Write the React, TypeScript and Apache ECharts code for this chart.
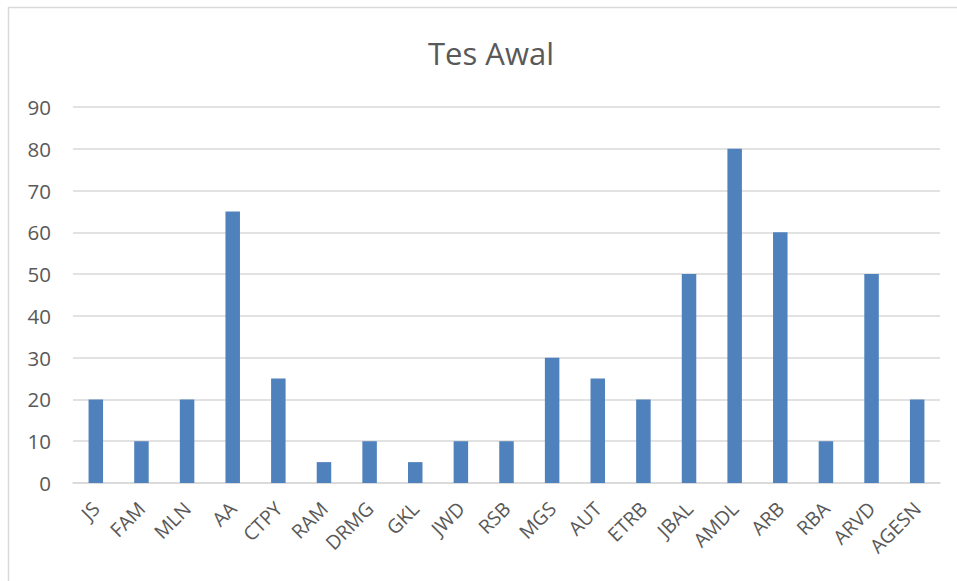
import React, { useEffect, useRef } from "react";
import * as echarts from "echarts";

const categories = ["JS", "FAM", "MLN", "AA", "CTPY", "RAM", "DRMG", "GKL", "JWD", "RSB", "MGS", "AUT", "ETRB", "JBAL", "AMDL", "ARB", "RBA", "ARVD", "AGESN"];
const values = [20, 10, 20, 65, 25, 5, 10, 5, 10, 10, 30, 25, 20, 50, 80, 60, 10, 50, 20];
const yTicks = { min: 0, max: 90, interval: 10 };
const title = "Tes Awal";

export default function App() {
  const ref = useRef<HTMLDivElement>(null);
  useEffect(() => {
    const chart = echarts.init(ref.current!, null, { renderer: "svg" });
    const font = "'Open Sans', 'Liberation Sans', sans-serif";
    chart.setOption({
      animation: false,
      backgroundColor: "#ffffff",
      title: {
        text: title,
        left: 423,
        top: 32,
        textStyle: { fontFamily: font, fontSize: 31, fontWeight: "normal", color: "#595959" },
      },
      graphic: [
        {
          type: "rect",
          shape: { x: 8.5, y: 7.5, width: 1000, height: 1000 },
          style: { fill: "none", stroke: "#d9d9d9", lineWidth: 1.5 },
          silent: true,
        },
      ],
      grid: { left: 73, right: 17, top: 107, bottom: 98, containLabel: false },
      xAxis: {
        type: "category",
        data: categories,
        axisTick: { show: false },
        axisLine: { show: true, lineStyle: { color: "#d9d9d9", width: 1.5 } },
        axisLabel: {
          rotate: 45,
          interval: 0,
          margin: 22,
          fontFamily: font,
          fontSize: 19.5,
          color: "#595959",
        },
      },
      yAxis: {
        type: "value",
        min: yTicks.min,
        max: yTicks.max,
        interval: yTicks.interval,
        axisLine: { show: false },
        axisTick: { show: false },
        axisLabel: { fontFamily: font, fontSize: 20.5, color: "#595959", margin: 22 },
        splitLine: { lineStyle: { color: "#d9d9d9", width: 1.5 } },
      },
      series: [
        {
          type: "bar",
          data: values,
          barWidth: 14.5,
          itemStyle: { color: "#4f81bd" },
        },
      ],
    });
    return () => chart.dispose();
  }, []);
  return (
    <div
      ref={ref}
      style={{ position: "fixed", left: 0, top: 0, width: 957, height: 581 }}
    />
  );
}
